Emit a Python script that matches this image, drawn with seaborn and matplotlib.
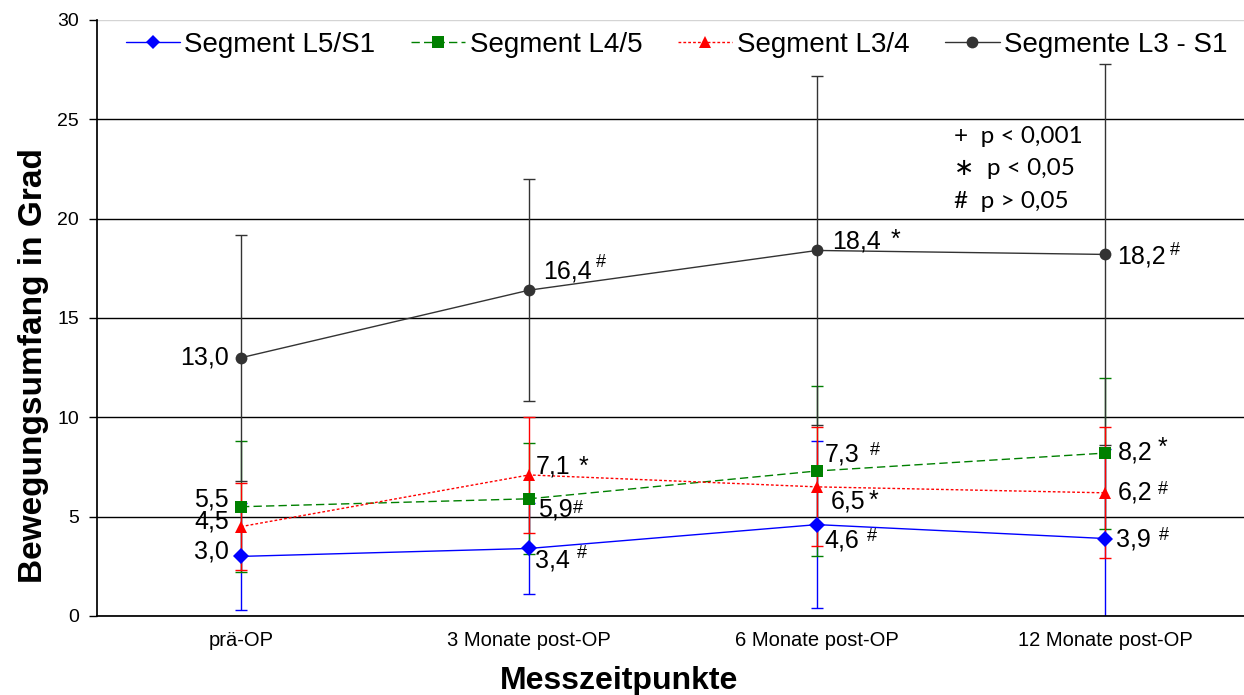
import numpy as np
import pandas as pd
import matplotlib
matplotlib.use("Agg")
import matplotlib.pyplot as plt
import seaborn as sns

# Daten (Mittelwert und Standardabweichung je Zeitpunkt)
zeitpunkte = ["prä-OP", "3 Monate post-OP", "6 Monate post-OP", "12 Monate post-OP"]
segmente = ["Segment L5/S1", "Segment L4/5", "Segment L3/4", "Segmente L3 - S1"]

l5s1_mw = [3.0, 3.4, 4.6, 3.9]
l5s1_sd = [2.7, 2.3, 4.2, 4.5]
l45_mw = [5.5, 5.9, 7.3, 8.2]
l45_sd = [3.3, 2.8, 4.3, 3.8]
l34_mw = [4.5, 7.1, 6.5, 6.2]
l34_sd = [2.2, 2.9, 3.0, 3.3]
l3s1_mw = [13.0, 16.4, 18.4, 18.2]
l3s1_sd = [6.2, 5.6, 8.8, 9.6]

# Signifikanz-Symbole
l5s1_sig = ["", "#", "#", "#"]
l45_sig = ["", "#", "#", "*"]
l34_sig = ["", "*", "*", "#"]
l3s1_sig = ["", "#", "*", "#"]

mittel = [l5s1_mw, l45_mw, l34_mw, l3s1_mw]
streuung = [l5s1_sd, l45_sd, l34_sd, l3s1_sd]
symbole = [l5s1_sig, l45_sig, l34_sig, l3s1_sig]

df = pd.DataFrame({
    "Zeitpunkt": zeitpunkte * 4,
    "Segment": np.repeat(segmente, 4),
    "Wert": np.concatenate(mittel),
})

farben = {"Segment L5/S1": "#0000ff", "Segment L4/5": "#008000",
          "Segment L3/4": "#ff0000", "Segmente L3 - S1": "#333333"}
marker = {"Segment L5/S1": "D", "Segment L4/5": "s",
          "Segment L3/4": "^", "Segmente L3 - S1": "o"}
striche = {"Segment L5/S1": "", "Segment L4/5": (6, 3),
           "Segment L3/4": (2, 1.5), "Segmente L3 - S1": ""}
groessen = {"Segment L5/S1": 7, "Segment L4/5": 8.5,
            "Segment L3/4": 8.5, "Segmente L3 - S1": 8.5}

sns.set_theme(style="white")
plt.rcParams["font.family"] = ["Liberation Sans", "DejaVu Sans"]
plt.rcParams["text.color"] = "black"
plt.rcParams["axes.labelcolor"] = "black"
plt.rcParams["xtick.color"] = "black"
plt.rcParams["ytick.color"] = "black"

fig = plt.figure(figsize=(12.44, 6.95), dpi=100)
ax = fig.add_axes([97 / 1244, 79 / 695, 1152 / 1244, 596 / 695])

# Fehlerbalken
for i in [0, 1, 3, 2]:
    ax.errorbar(zeitpunkte, mittel[i], yerr=streuung[i], fmt="none",
                ecolor=farben[segmente[i]], elinewidth=1, capsize=4,
                capthick=1, zorder=2)

sns.lineplot(data=df, x="Zeitpunkt", y="Wert", hue="Segment", style="Segment",
             palette=farben, markers=marker, dashes=striche, sort=False,
             errorbar=None, linewidth=1, markersize=8.5, markeredgewidth=0,
             ax=ax, zorder=3)

for line, seg in zip(ax.get_lines()[-4:], segmente):
    line.set_markersize(groessen[seg])

# Beschriftungen der Werte
wert_offset = [
    [(-12, 5), (6, -12), (7, -16), (11, -1)],
    [(-12, 7), (9, -11), (8, 16), (13, 1)],
    [(-12, 5), (7, 8), (14, -15), (13, 0)],
    [(-12, 0), (14, 19), (15, 9), (12, -2)],
]
sym_offset = [
    [None, (53, -5), (55, -12), (59, 3)],
    [None, (49, -10), (58, 20), (57, 5)],
    [None, (54, 8), (56, -14), (58, 3)],
    [None, (72, 28), (78, 11), (70, 4)],
]
for i in range(4):
    for j, zp in enumerate(zeitpunkte):
        wert = mittel[i][j]
        txt = f"{wert:.1f}".replace(".", ",")
        dx, dy = wert_offset[i][j]
        ax.annotate(txt, (zp, wert), xytext=(dx, dy), textcoords="offset pixels",
                    ha="right" if dx < 0 else "left", va="center",
                    fontsize=18, color="black", zorder=5)
        s = symbole[i][j]
        if s:
            sx, sy = sym_offset[i][j]
            ax.annotate(s, (zp, wert), xytext=(sx, sy), textcoords="offset pixels",
                        ha="center", va="center",
                        fontsize=18 if s == "*" else 13, color="black", zorder=5)

# Achsen
ax.set_xlim(-0.5, 3.5)
ax.set_ylim(0, 30)
ax.set_yticks(np.arange(0, 31, 5))
ax.set_xticks([0.5, 1.5, 2.5], minor=True)
ax.tick_params(axis="x", which="major", length=0, labelsize=14.5, pad=11)
ax.tick_params(axis="x", which="minor", length=6, width=1, color="black", direction="out")
ax.tick_params(axis="y", length=6, width=1, color="black", direction="out",
               labelsize=14, pad=7, left=True)
ax.yaxis.grid(True, color="black", linewidth=1)
ax.xaxis.grid(False)
ax.get_ygridlines()[-1].set_color("#d4d4d4")
for side in ["top", "right"]:
    ax.spines[side].set_visible(False)
ax.spines["left"].set_color("black")
ax.spines["bottom"].set_color("black")
ax.set_axisbelow(True)

ax.set_xlabel("Messzeitpunkte", fontsize=23, fontweight="bold", labelpad=11)
ax.set_ylabel("Bewegungsumfang in Grad", fontsize=24, fontweight="bold", labelpad=6)
ax.xaxis.label.set_x(0.453)
ax.yaxis.label.set_y(0.421)

# Legende
handles, labels = ax.get_legend_handles_labels()
ax.legend(handles, labels, loc="center", bbox_to_anchor=(0.503, 0.958), ncol=4,
          frameon=False, fontsize=20, handlelength=1.95, handletextpad=0.15,
          columnspacing=1.3)

# Signifikanz-Legende
sig_texte = ["+  p < 0,001", "\u2217  p < 0,05", "#  p > 0,05"]
for k, t in enumerate(sig_texte):
    ax.text(0.744, 0.805 - k * 0.0545, t, transform=ax.transAxes, fontsize=17.5,
            family=["Lato", "DejaVu Sans"], va="center", ha="left")

fig.savefig("out.png", dpi=100)
